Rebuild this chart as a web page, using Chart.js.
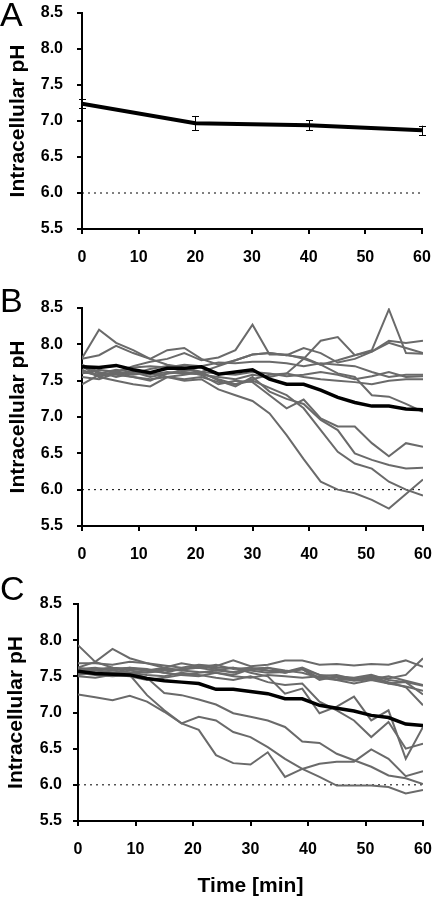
<!DOCTYPE html>
<html>
<head>
<meta charset="utf-8">
<script src="https://cdn.jsdelivr.net/npm/chart.js@4/dist/chart.umd.min.js"></script>
<style>
body { margin: 0; background: #fff; }
#wrap { position: relative; width: 433px; height: 899px; overflow: hidden; font-family: "Liberation Sans", Arial, sans-serif; }
.panel { position: absolute; left: 0; width: 433px; }
.letter { position: absolute; left: 0; font-size: 34px; line-height: 1; color: #000; }
</style>
</head>
<body>
<div id="wrap">
  <div class="panel" style="top:0;height:290px"><canvas id="chartA"></canvas></div>
  <div class="panel" style="top:290px;height:290px"><canvas id="chartB"></canvas></div>
  <div class="panel" style="top:580px;height:319px"><canvas id="chartC"></canvas></div>
  <div class="letter" style="top:-3px">A</div>
  <div class="letter" style="top:283px">B</div>
  <div class="letter" style="top:571px">C</div>
</div>
<script>
// panel A: mean +- error
const timeA = [0, 20, 40, 60];
const meanA = [7.24, 6.97, 6.94, 6.87];
const errA = [0.065, 0.10, 0.07, 0.065];

// panels B and C: single cells every 3 min
const times = [0, 3, 6, 9, 12, 15, 18, 21, 24, 27, 30, 33, 36, 39, 42, 45, 48, 51, 54, 57, 60];

const meanB = [7.69, 7.68, 7.71, 7.65, 7.61, 7.67, 7.67, 7.69, 7.59, 7.62, 7.65, 7.52, 7.45, 7.45, 7.37, 7.27, 7.20, 7.15, 7.15, 7.11, 7.10];
const b1 = [7.81, 8.20, 8.02, 7.92, 7.80, 7.72, 7.68, 7.62, 7.60, 7.58, 7.62, 7.60, 7.56, 7.58, 7.62, 7.58, 7.52, 7.56, 7.62, 7.55, 7.56];
const b2 = [7.62, 7.58, 7.62, 7.70, 7.76, 7.80, 7.88, 7.78, 7.82, 7.92, 8.27, 7.86, 7.86, 7.80, 7.72, 7.60, 7.55, 7.30, 7.28, 7.18, 7.07];
const b3 = [7.55, 7.52, 7.60, 7.62, 7.55, 7.60, 7.65, 7.62, 7.70, 7.78, 7.86, 7.88, 7.85, 7.82, 7.72, 7.78, 7.85, 7.92, 8.48, 7.88, 7.87];
const b4 = [7.72, 7.62, 7.55, 7.60, 7.66, 7.70, 7.62, 7.58, 7.55, 7.52, 7.58, 7.55, 7.60, 7.80, 8.05, 8.10, 7.85, 7.90, 8.02, 7.95, 7.88];
const b5 = [7.80, 7.85, 7.98, 7.88, 7.80, 7.92, 7.95, 7.80, 7.72, 7.78, 7.86, 7.88, 7.85, 7.95, 7.88, 7.75, 7.80, 7.90, 8.05, 8.02, 8.05];
const b6 = [7.70, 7.55, 7.50, 7.45, 7.42, 7.55, 7.52, 7.55, 7.48, 7.45, 7.52, 7.58, 7.60, 7.55, 7.52, 7.50, 7.48, 7.45, 7.50, 7.52, 7.52];
const b7 = [7.60, 7.65, 7.62, 7.68, 7.70, 7.68, 7.72, 7.70, 7.75, 7.74, 7.76, 7.76, 7.74, 7.70, 7.74, 7.72, 7.70, 7.62, 7.55, 7.58, 7.58];
const b8 = [7.45, 7.58, 7.58, 7.55, 7.50, 7.60, 7.62, 7.58, 7.45, 7.50, 7.48, 7.30, 7.12, 7.24, 6.98, 6.87, 6.87, 6.64, 6.46, 6.64, 6.59];
const b9 = [7.65, 7.55, 7.62, 7.58, 7.62, 7.55, 7.58, 7.62, 7.50, 7.42, 7.55, 7.35, 7.25, 7.18, 6.96, 6.82, 6.50, 6.41, 6.34, 6.29, 6.30];
const b10 = [7.70, 7.60, 7.65, 7.62, 7.58, 7.62, 7.60, 7.60, 7.52, 7.45, 7.50, 7.40, 7.30, 7.12, 6.82, 6.52, 6.36, 6.29, 6.11, 6.00, 5.92];
const b11 = [7.62, 7.58, 7.60, 7.55, 7.52, 7.55, 7.50, 7.52, 7.38, 7.30, 7.22, 7.05, 6.75, 6.42, 6.11, 6.00, 5.95, 5.86, 5.74, 5.94, 6.14];
const cellsB = [b1, b2, b3, b4, b5, b6, b7, b8, b9, b10, b11];

const meanC = [7.57, 7.54, 7.53, 7.52, 7.47, 7.44, 7.42, 7.40, 7.32, 7.32, 7.29, 7.26, 7.19, 7.19, 7.10, 7.06, 7.02, 6.96, 6.93, 6.84, 6.82];
const c1 = [7.93, 7.70, 7.62, 7.60, 7.58, 7.55, 7.60, 7.62, 7.58, 7.56, 7.60, 7.58, 7.55, 7.60, 7.52, 7.50, 7.48, 7.52, 7.45, 7.42, 7.37];
const c2 = [7.62, 7.70, 7.88, 7.75, 7.68, 7.62, 7.58, 7.65, 7.60, 7.55, 7.60, 7.62, 7.58, 7.55, 7.48, 7.45, 7.40, 7.45, 7.40, 7.42, 7.25];
const c3 = [7.68, 7.68, 7.66, 7.70, 7.68, 7.65, 7.62, 7.66, 7.64, 7.72, 7.64, 7.66, 7.72, 7.72, 7.66, 7.67, 7.65, 7.67, 7.66, 7.72, 7.63];
const c4 = [7.58, 7.60, 7.62, 7.58, 7.55, 7.58, 7.60, 7.62, 7.66, 7.60, 7.62, 7.58, 7.56, 7.62, 7.52, 7.45, 7.46, 7.50, 7.47, 7.52, 7.75];
const c5 = [7.55, 7.58, 7.60, 7.62, 7.58, 7.62, 7.68, 7.64, 7.62, 7.62, 7.58, 7.55, 7.56, 7.60, 7.48, 7.48, 7.44, 7.46, 7.50, 7.44, 7.38];
const c6 = [7.60, 7.62, 7.58, 7.55, 7.56, 7.60, 7.58, 7.56, 7.55, 7.52, 7.60, 7.62, 7.55, 7.60, 7.45, 7.50, 7.45, 7.50, 7.42, 7.35, 7.10];
const c7 = [7.52, 7.55, 7.58, 7.62, 7.60, 7.55, 7.52, 7.55, 7.58, 7.62, 7.55, 7.50, 7.26, 7.33, 6.99, 7.08, 7.22, 6.89, 7.03, 6.36, 6.80];
const c8 = [7.60, 7.58, 7.62, 7.55, 7.52, 7.50, 7.55, 7.52, 7.48, 7.45, 7.50, 7.42, 7.38, 7.40, 7.15, 7.03, 6.89, 6.66, 6.87, 6.50, 6.57];
const c9 = [7.50, 7.48, 7.52, 7.50, 7.45, 7.48, 7.52, 7.50, 7.55, 7.50, 7.48, 7.52, 7.50, 7.48, 7.50, 7.52, 7.46, 7.48, 7.40, 7.36, 7.30];
const c10 = [7.25, 7.21, 7.17, 7.23, 7.15, 7.01, 6.85, 6.76, 6.41, 6.30, 6.28, 6.45, 6.11, 6.22, 6.29, 6.32, 6.32, 6.49, 6.36, 6.12, 6.19];
const c11 = [7.55, 7.52, 7.50, 7.52, 7.24, 7.03, 6.85, 6.94, 6.89, 6.73, 6.66, 6.52, 6.36, 6.22, 6.11, 5.99, 5.99, 5.99, 5.97, 5.88, 5.93];
const c12 = [7.62, 7.58, 7.55, 7.55, 7.48, 7.27, 7.24, 7.18, 7.11, 6.99, 6.94, 6.89, 6.80, 6.60, 6.58, 6.43, 6.34, 6.25, 6.13, 6.09, 6.01];
const cellsC = [c1, c2, c3, c4, c5, c6, c7, c8, c9, c10, c11, c12];

const yTicks = [5.5, 6.0, 6.5, 7.0, 7.5, 8.0, 8.5];
const xTicks = [0, 10, 20, 30, 40, 50, 60];
const threshold = 6.0;

Chart.defaults.font.family = "'Liberation Sans', Arial, sans-serif";
Chart.defaults.color = '#000';

function toPts(xs, ys) {
    return xs.map((x, i) => ({ x: x, y: ys[i] }));
}

// error bars for panel A, drawn through the scales
const errorBars = {
    id: 'errorBars',
    afterDatasetsDraw(chart) {
        const ctx = chart.ctx;
        const x = chart.scales.x, y = chart.scales.y;
        ctx.save();
        ctx.strokeStyle = '#000';
        ctx.lineWidth = 1;
        timeA.forEach((t, i) => {
            const px = Math.round(x.getPixelForValue(t)) + 0.5;
            const top = y.getPixelForValue(meanA[i] + errA[i]);
            const bot = y.getPixelForValue(meanA[i] - errA[i]);
            ctx.beginPath();
            ctx.moveTo(px, top); ctx.lineTo(px, bot);
            ctx.moveTo(px - 3.5, Math.round(top) + 0.5); ctx.lineTo(px + 3.5, Math.round(top) + 0.5);
            ctx.moveTo(px - 3.5, Math.round(bot) + 0.5); ctx.lineTo(px + 3.5, Math.round(bot) + 0.5);
            ctx.stroke();
        });
        ctx.restore();
    }
};

function makeChart(id, xs, mean, cells, o) {
    let ds = [];
    ds.push({ data: toPts(xs, mean), borderColor: '#000', borderWidth: o.meanWidth, order: 0 });
    cells.forEach(c => {
        ds.push({ data: toPts(xs, c), borderColor: '#6a6a6a', borderWidth: 2, order: 1 });
    });
    ds.push({ data: [{ x: 0, y: threshold }, { x: 60, y: threshold }], borderColor: '#000', borderWidth: 1, borderDash: [2, 4], order: 2 });

    return new Chart(document.getElementById(id), {
        type: 'line',
        data: { datasets: ds },
        options: {
            responsive: true,
            maintainAspectRatio: false,
            animation: false,
            layout: { padding: { top: o.top, right: o.right, left: 0, bottom: 0 } },
            elements: { point: { radius: 0 }, line: { tension: 0, borderJoinStyle: 'miter' } },
            plugins: { legend: { display: false }, tooltip: { enabled: false } },
            scales: {
                x: {
                    type: 'linear', min: 0, max: 60,
                    afterBuildTicks: s => { s.ticks = xTicks.map(v => ({ value: v })); },
                    ticks: { color: '#000', font: { size: 16, weight: 'bold' }, padding: 14, maxRotation: 0, autoSkip: false },
                    grid: { drawOnChartArea: false, color: '#000', lineWidth: 2, tickLength: 5 },
                    border: { color: '#000', width: 2 },
                    title: { display: !!o.xTitle, text: o.xTitle, color: '#000', font: { size: 21, weight: 'bold' }, padding: { top: 0, bottom: 0 } },
                    afterFit: s => { s.height = o.xh; s.paddingLeft = 0; s.paddingRight = 0; }
                },
                y: {
                    min: 5.5, max: 8.5,
                    afterBuildTicks: s => { s.ticks = yTicks.map(v => ({ value: v })); },
                    ticks: { color: '#000', font: { size: 16, weight: 'bold' }, padding: o.yPad, callback: v => v.toFixed(1) },
                    grid: { drawOnChartArea: false, color: '#000', lineWidth: 2, tickLength: 5 },
                    border: { color: '#000', width: 2 },
                    title: { display: true, text: 'Intracellular pH', color: '#000', font: { size: 21, weight: 'bold' }, padding: { top: o.titlePad, bottom: 0 } },
                    afterFit: s => { s.width = o.yw; s.paddingTop = 0; s.paddingBottom = 0; }
                }
            }
        },
        plugins: o.plugins || []
    });
}

makeChart('chartA', timeA, meanA, [], { top: 13, right: 11, xh: 61, yw: 82, yPad: 14, titlePad: 6, meanWidth: 4, plugins: [errorBars] });
makeChart('chartB', times, meanB, cellsB, { top: 18, right: 10, xh: 54, yw: 82, yPad: 14, titlePad: 6, meanWidth: 3.5 });
makeChart('chartC', times, meanC, cellsC, { top: 24, right: 10, xh: 78, yw: 78, yPad: 11, titlePad: 4, meanWidth: 3.5, xTitle: 'Time [min]' });
</script>
</body>
</html>
